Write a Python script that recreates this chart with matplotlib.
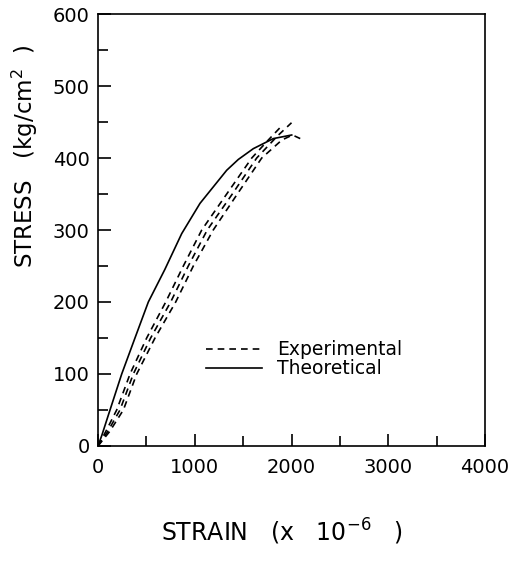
import numpy as np
import matplotlib.pyplot as plt
from matplotlib.ticker import MultipleLocator

# theoretical curve
theo_x = [0, 40, 124, 245, 382, 520, 690, 865, 1054, 1330, 1450, 1605, 1812, 2002]
theo_y = [0, 15, 50, 100, 150, 200, 245, 295, 337, 383, 398, 413, 427, 432]

# experimental curves (three specimens)
expA_x = [0, 80, 193, 331, 503, 700, 882, 1072, 1330, 1589, 1760, 1880]
expA_y = [0, 20, 50, 100, 150, 200, 250, 300, 350, 400, 425, 442]
expB_x = [0, 100, 227, 365, 544, 751, 933, 1129, 1388, 1640, 1850, 2000]
expB_y = [0, 20, 50, 100, 150, 200, 250, 300, 350, 400, 430, 449]
expC_x = [0, 120, 262, 400, 589, 803, 985, 1191, 1440, 1692, 1900, 2010, 2090]
expC_y = [0, 20, 50, 100, 150, 200, 250, 300, 350, 400, 425, 432, 427]

fig = plt.figure(figsize=(5.14, 5.86), dpi=100)
ax = fig.add_axes([0.1907, 0.239, 0.7529, 0.737])

dash = (0, (4, 3))
ax.plot(expA_x, expA_y, color='black', lw=1.2, ls=dash, label='Experimental')
ax.plot(expB_x, expB_y, color='black', lw=1.2, ls=dash)
ax.plot(expC_x, expC_y, color='black', lw=1.2, ls=dash)
ax.plot(theo_x, theo_y, color='black', lw=1.2, label='Theoretical')

ax.set_xlim(0, 4000)
ax.set_ylim(0, 600)
ax.xaxis.set_major_locator(MultipleLocator(1000))
ax.xaxis.set_minor_locator(MultipleLocator(500))
ax.yaxis.set_major_locator(MultipleLocator(100))
ax.yaxis.set_minor_locator(MultipleLocator(50))
ax.tick_params(which='both', direction='in', top=False, right=False, width=1.2,
               labelsize=14)
ax.tick_params(axis='x', pad=9)
ax.tick_params(axis='y', pad=6)
ax.tick_params(which='major', length=9)
ax.tick_params(which='minor', length=7)
for s in ax.spines.values():
    s.set_linewidth(1.2)

ax.set_xlabel('STRAIN   (x   10$^{-6}$   )', fontsize=17)
ax.set_ylabel('STRESS   (kg/cm$^2$  )', fontsize=16.5)
ax.xaxis.set_label_coords(0.475, -0.165)
ax.yaxis.set_label_coords(-0.15, 0.67)

ax.legend(loc=(0.26, 0.139), frameon=False, fontsize=13.5, handlelength=3.0,
          handletextpad=0.8, labelspacing=0.0)

fig.savefig('out.png', dpi=100)
